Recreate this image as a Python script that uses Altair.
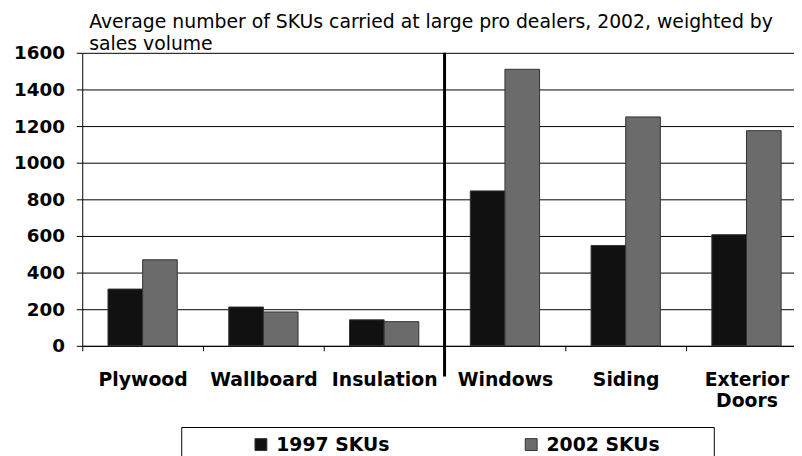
import altair as alt
import pandas as pd

categories = ["Plywood", "Wallboard", "Insulation", "Windows", "Siding", "Exterior Doors"]
series = ["1997 SKUs", "2002 SKUs"]
skus_1997 = [310, 212, 142, 846, 548, 607]
skus_2002 = [470, 185, 132, 1510, 1250, 1175]
y_ticks = [0, 200, 400, 600, 800, 1000, 1200, 1400, 1600]
separator_at = ["Windows"]
title_lines = ["Average number of SKUs carried at large pro dealers, 2002, weighted by",
               "sales volume"]

rows = []
for c, a, b in zip(categories, skus_1997, skus_2002):
    rows.append({"category": c, "series": series[0], "value": a})
    rows.append({"category": c, "series": series[1], "value": b})
df = pd.DataFrame(rows)
sep_df = pd.DataFrame({"category": separator_at})

W, H = 732, 296
FONT = "DejaVu Sans"
PAD = "\u00a0" * 7 + "\u200b"

x_scale = alt.Scale(domain=categories, paddingInner=0, paddingOuter=0)

bars = alt.Chart(df).mark_bar(stroke="#333333", strokeWidth=1).encode(
    x=alt.X("category:N", sort=categories, scale=x_scale,
            axis=alt.Axis(title=None, labelAngle=0, labelExpr="split(datum.label, ' ')",
                          tickBand="extent", tickSize=5, tickColor="black",
                          domainColor="black", labelPadding=20, labelLineHeight=21,
                          labelFontSize=19, grid=False)),
    xOffset=alt.XOffset("series:N", sort=series,
                        scale=alt.Scale(paddingInner=0, paddingOuter=0.743)),
    y=alt.Y("value:Q", scale=alt.Scale(domain=[0, 1600], nice=False),
            axis=alt.Axis(title=None, values=y_ticks, format="d", grid=True,
                          gridColor="black", gridOpacity=1, gridWidth=1,
                          domainColor="black", tickColor="black", tickSize=6,
                          labelFontSize=18.5, labelPadding=12)),
    color=alt.Color("series:N", sort=series,
                    scale=alt.Scale(domain=series, range=["#111111", "#6b6b6b"]),
                    legend=alt.Legend(title=None, orient="none", legendX=100, legendY=378,
                                      direction="horizontal", columns=2,
                                      strokeColor="black", padding=8,
                                      symbolType="square", symbolSize=144,
                                      symbolOffset=63, labelOffset=6, columnPadding=24,
                                      labelLimit=400,
                                      symbolStrokeColor="#333333", symbolStrokeWidth=1,
                                      labelExpr="datum.label + '" + PAD + "'")),
)

sep = alt.Chart(sep_df).mark_rule(color="black", strokeWidth=3).encode(
    x=alt.X("category:N", sort=categories, scale=x_scale, bandPosition=0),
    y=alt.value(0),
    y2=alt.value(H + 31),
)

chart = alt.layer(bars, sep).properties(
    width=W, height=H,
    autosize=alt.AutoSizeParams(type="none"),
    padding={"left": 75, "top": 43, "right": -13, "bottom": 109},
    title=alt.TitleParams(text=title_lines, anchor="start", frame="group", font=FONT,
                          fontSize=19, fontWeight="normal", color="black",
                          lineHeight=22, offset=-10, dx=7),
).configure_view(stroke=None).configure_axis(
    labelFont=FONT, labelFontWeight="bold", labelColor="black"
).configure_legend(
    labelFont=FONT, labelFontSize=19, labelFontWeight="bold", labelColor="black"
)

chart.save("out.html", embed_options={"renderer": "svg", "actions": False})
